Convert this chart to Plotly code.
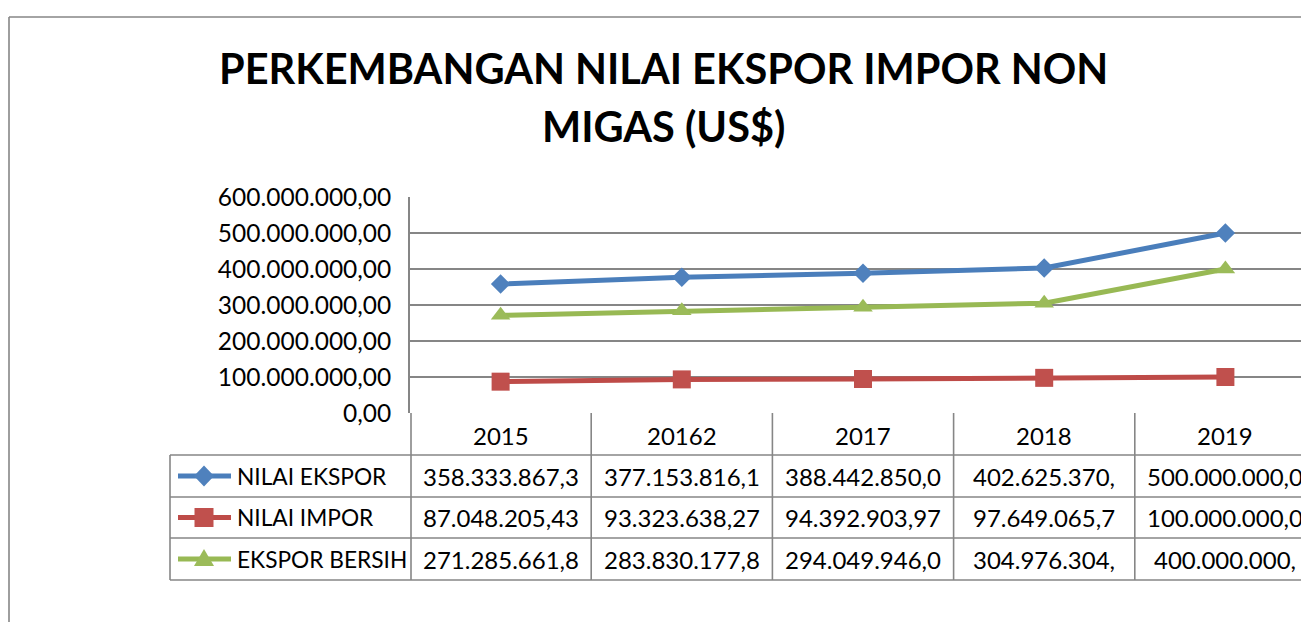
import plotly.graph_objects as go

# ---------------- data ----------------
categories = ["2015", "20162", "2017", "2018", "2019"]
series_names = ["NILAI EKSPOR", "NILAI IMPOR", "EKSPOR BERSIH"]
nilai_ekspor = [358333867.3, 377153816.1, 388442850.0, 402625370.0, 500000000.0]
nilai_impor = [87048205.43, 93323638.27, 94392903.97, 97649065.7, 100000000.0]
ekspor_bersih = [271285661.8, 283830177.8, 294049946.0, 304976304.0, 400000000.0]
# text as shown in the data table (Excel truncates some cells)
ekspor_text = ["358.333.867,3", "377.153.816,1", "388.442.850,0", "402.625.370,", "500.000.000,0"]
impor_text = ["87.048.205,43", "93.323.638,27", "94.392.903,97", "97.649.065,7", "100.000.000,0"]
bersih_text = ["271.285.661,8", "283.830.177,8", "294.049.946,0", "304.976.304,", "400.000.000,"]
y_tickvals = [0, 100000000, 200000000, 300000000, 400000000, 500000000, 600000000]
y_ticktext = ["0,00", "100.000.000,00", "200.000.000,00", "300.000.000,00",
              "400.000.000,00", "500.000.000,00", "600.000.000,00"]
title_lines = ["PERKEMBANGAN NILAI EKSPOR IMPOR NON", "MIGAS (US$)"]

# ---------------- styling ----------------
OFF = 8                           # page body margin
W, H = 1309 - OFF, 630 - 2 * OFF
L, T, B = 410 - OFF, 197 - OFF, 413 - OFF   # plot area pixel edges (figure coords)
PW, PH = W - L, B - T
CAT_W = 181.2
FONT = "Lato"
GRID = "#868686"
line_colors = ["#4A7EBB", "#BE4B48", "#98B954"]
marker_colors = ["#4F81BD", "#C0504D", "#9BBB59"]
symbols = ["diamond", "square", "triangle-up"]
msizes = [15, 18, 17]


def px(x):
    """reference-screen x pixel -> paper fraction"""
    return (x - OFF - L) / PW


def py(y):
    """reference-screen y pixel -> paper fraction"""
    return (B - (y - OFF)) / PH


fig = go.Figure()
xs = list(range(len(categories)))
for name, vals, lc, mc, sym, ms in zip(series_names, [nilai_ekspor, nilai_impor, ekspor_bersih],
                                       line_colors, marker_colors, symbols, msizes):
    fig.add_trace(go.Scatter(
        x=xs, y=vals, name=name, mode="lines+markers",
        line=dict(color=lc, width=5),
        marker=dict(symbol=sym, size=ms, color=mc, line=dict(width=0)),
        showlegend=False, hoverinfo="skip"))

shapes = []
annotations = []
ln = dict(color=GRID, width=1.6)

# outer chart border
shapes.append(dict(type="line", xref="paper", yref="paper", x0=px(9), x1=px(9), y0=py(17), y1=py(660), line=ln))
shapes.append(dict(type="line", xref="paper", yref="paper", x0=px(9), x1=px(1340), y0=py(17), y1=py(17), line=ln))

# data table grid
rows_y = [455, 497, 538, 580]
for yy in rows_y:
    shapes.append(dict(type="line", xref="paper", yref="paper", x0=px(170), x1=px(1340), y0=py(yy), y1=py(yy), line=ln))
shapes.append(dict(type="line", xref="paper", yref="paper", x0=px(170), x1=px(170), y0=py(455), y1=py(580), line=ln))
shapes.append(dict(type="line", xref="paper", yref="paper", x0=px(411), x1=px(411), y0=py(413), y1=py(580), line=ln))
for i in range(1, len(categories)):
    xb = 410 + CAT_W * i
    shapes.append(dict(type="line", xref="paper", yref="paper", x0=px(xb), x1=px(xb), y0=py(413), y1=py(580), line=ln))

TXT = dict(family=FONT, size=24, color="black")
# year header
for i, c in enumerate(categories):
    annotations.append(dict(x=i, y=py(435), xref="x", yref="paper", text=c, showarrow=False,
                            xanchor="center", yanchor="middle", font=TXT))

# table rows
row_centers = [476, 517.5, 559]
legend_paths = [
    "M -10 0 L 0 10.5 L 10 0 L 0 -10.5 Z",
    "M -9.5 -9.5 L 9.5 -9.5 L 9.5 9.5 L -9.5 9.5 Z",
    "M -10 -7 L 10 -7 L 0 10 Z",
]
for r, (name, texts) in enumerate(zip(series_names, [ekspor_text, impor_text, bersih_text])):
    yc = row_centers[r]
    shapes.append(dict(type="line", xref="paper", yref="paper", x0=px(178), x1=px(231), y0=py(yc), y1=py(yc),
                       line=dict(color=line_colors[r], width=5)))
    shapes.append(dict(type="path", xref="paper", yref="paper", xsizemode="pixel", ysizemode="pixel",
                       xanchor=px(204), yanchor=py(yc), path=legend_paths[r],
                       fillcolor=marker_colors[r], line=dict(width=0)))
    annotations.append(dict(x=px(235), y=py(yc), xref="paper", yref="paper", text=name, showarrow=False,
                            xanchor="left", yanchor="middle", font=dict(family=FONT, size=22.7, color="black")))
    for i, t in enumerate(texts):
        annotations.append(dict(x=i, y=py(yc), xref="x", yref="paper", text=t, showarrow=False,
                                xanchor="center", yanchor="middle", font=TXT))

# title
for line_text, yc in zip(title_lines, [67.5, 126]):
    annotations.append(dict(x=px(663), y=py(yc), xref="paper", yref="paper", text="<b>" + line_text + "</b>",
                            showarrow=False, xanchor="center", yanchor="middle",
                            font=dict(family=FONT, size=41.5, color="black")))

fig.update_layout(
    width=W, height=H,
    margin=dict(l=L, r=0, t=T, b=H - B, pad=0),
    paper_bgcolor="white", plot_bgcolor="white",
    shapes=shapes, annotations=annotations,
    xaxis=dict(range=[-0.5, -0.5 + PW / CAT_W], showgrid=False, zeroline=False, showline=False,
               showticklabels=False, ticks="", fixedrange=True),
    yaxis=dict(range=[0, 600000000], tickvals=y_tickvals, ticktext=y_ticktext,
               showgrid=True, gridcolor=GRID, gridwidth=1.6, zeroline=False,
               showline=True, linecolor=GRID, linewidth=1.6, ticks="",
               ticklabelstandoff=12,
               tickfont=dict(family=FONT, size=24.5, color="black")),
)

fig.write_html("out.html")
